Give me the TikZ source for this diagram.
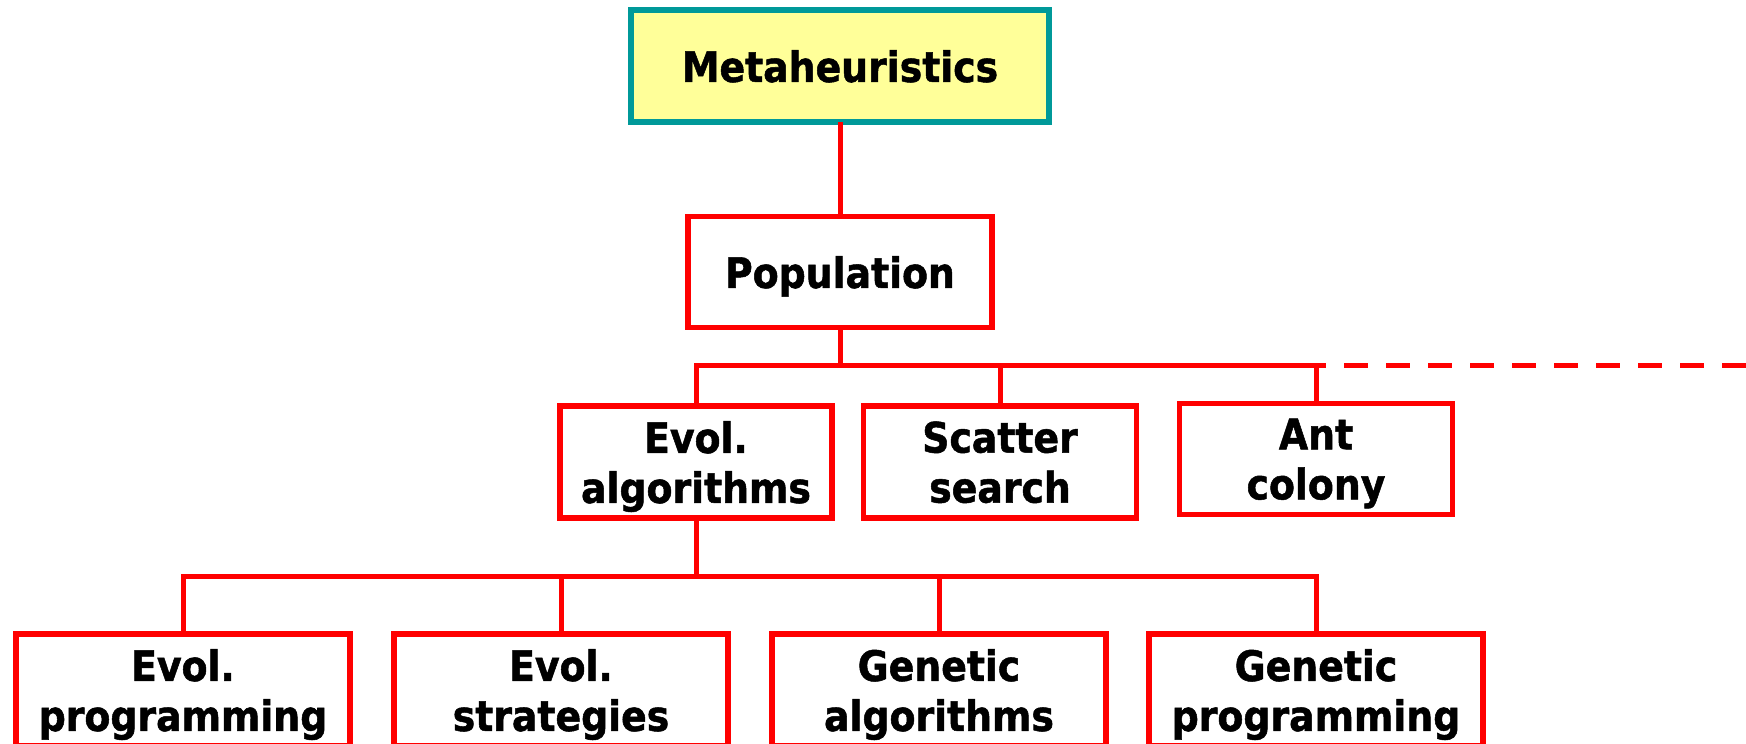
\documentclass[tikz,border=0pt]{standalone}
\usepackage{fontspec}
\setmainfont{DejaVu Sans Condensed}[BoldFeatures={FakeBold=1.2}]
\definecolor{boxred}{RGB}{255,0,0}
\definecolor{teal}{RGB}{0,153,153}
\definecolor{paleyellow}{RGB}{255,255,153}
\begin{document}
\begin{tikzpicture}[x=1pt,y=-1pt,
  every node/.style={inner sep=0pt,outer sep=0pt,align=center,text depth=0pt,
    font=\fontsize{42}{50}\selectfont\bfseries},
  catbox/.style={draw=boxred,line width=5.5pt,fill=white,rectangle},
  rootbox/.style={draw=teal,line width=5.5pt,fill=paleyellow,rectangle},
  conn/.style={draw=boxred,line width=5pt},
  future/.style={draw=boxred,line width=5pt,dashed,dash pattern=on 24pt off 18pt}]
\useasboundingbox (0,0) rectangle (1746,744);

% levels of the taxonomy
\node[rootbox,minimum width=418pt,minimum height=112pt] (meta) at (840,66) {Metaheuristics};
\node[catbox,minimum width=304pt,minimum height=111pt] (pop) at (840,272) {Population};

\node[catbox,minimum width=272pt,minimum height=112pt] (evo) at (696,462) {Evol.\\algorithms};
\node[catbox,minimum width=273pt,minimum height=112pt] (sca) at (1000,462) {Scatter\\search};
\node[catbox,minimum width=273pt,minimum height=111pt] (ant) at (1316,459) {Ant\\colony};

\node[catbox,minimum width=334pt,minimum height=112pt] (ep) at (183,690) {Evol.\\programming};
\node[catbox,minimum width=334pt,minimum height=112pt] (es) at (561,690) {Evol.\\strategies};
\node[catbox,minimum width=334pt,minimum height=112pt] (ga) at (939,690) {Genetic\\algorithms};
\node[catbox,minimum width=334pt,minimum height=112pt] (gp) at (1316,690) {Genetic\\programming};

% bus lines
\coordinate (busA) at (0,365);
\coordinate (busB) at (0,576);
\coordinate (rim) at (1746,365);

\draw[conn] (meta.south) -- (pop.north);
\draw[conn] (pop.south) -- (pop.south |- busA);
\draw[future] (pop.south |- busA) -- (rim);
\draw[conn] (evo.north) -- (evo.north |- busA) -- (ant.north |- busA) -- (ant.north);
\draw[conn] (sca.north) -- (sca.north |- busA);

\draw[conn] (evo.south) -- (evo.south |- busB);
\draw[conn] (ep.north) -- (ep.north |- busB) -- (gp.north |- busB) -- (gp.north);
\draw[conn] (es.north) -- (es.north |- busB);
\draw[conn] (ga.north) -- (ga.north |- busB);
\end{tikzpicture}
\end{document}
